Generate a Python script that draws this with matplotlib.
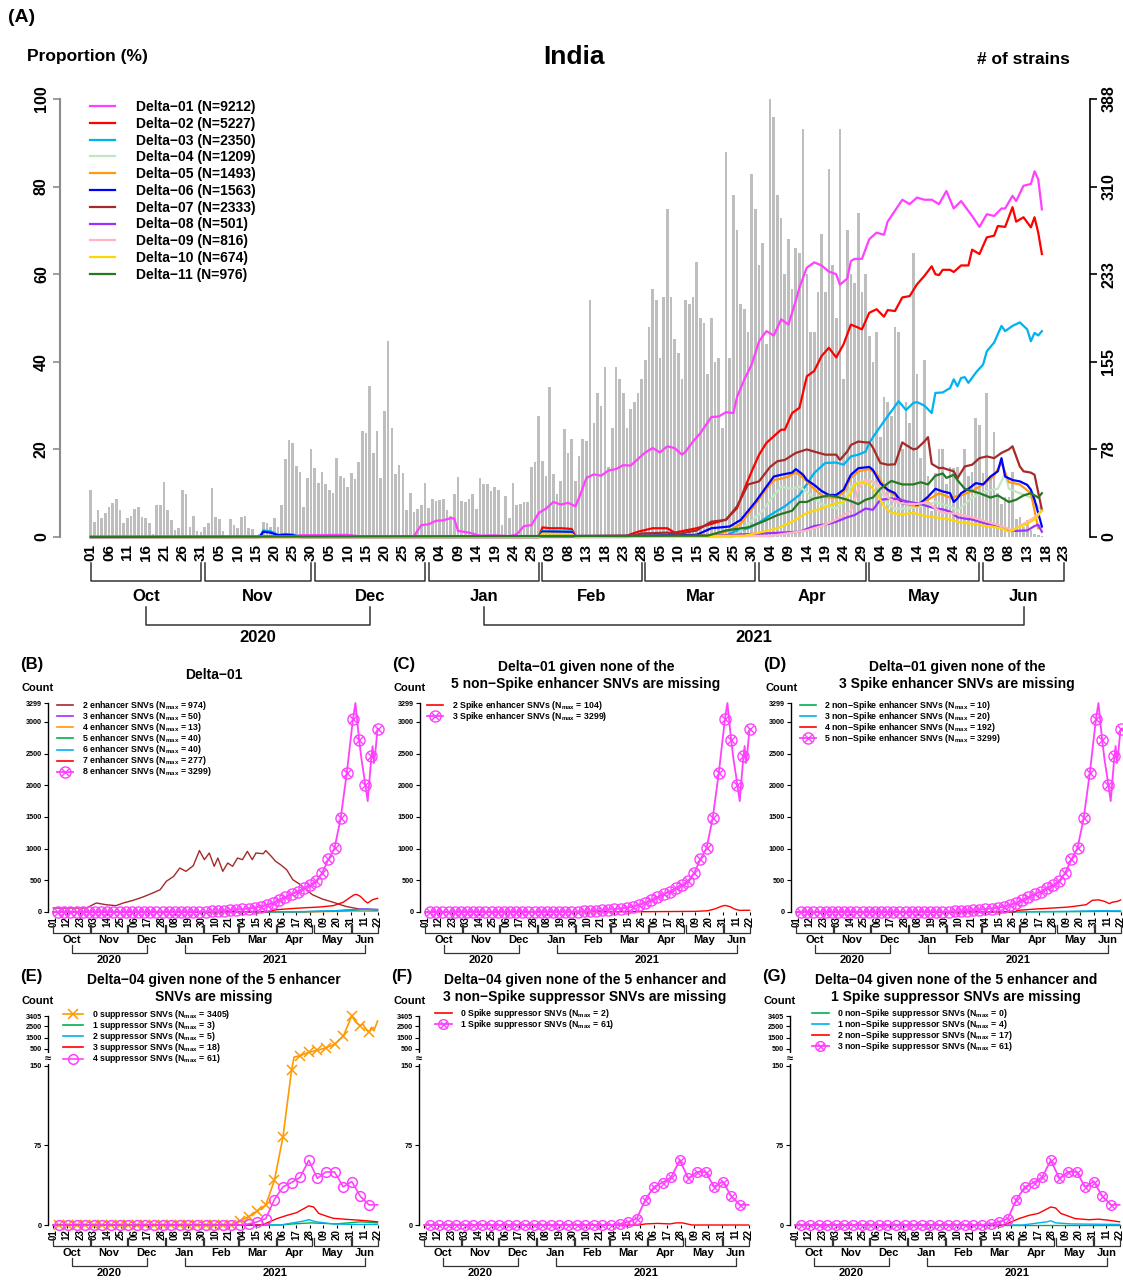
import datetime as dt
import numpy as np
import matplotlib
matplotlib.use('Agg')
import matplotlib.pyplot as plt
from matplotlib.lines import Line2D
from matplotlib.transforms import blended_transform_factory

plt.rcParams['font.family'] = ['Liberation Sans', 'DejaVu Sans']
plt.rcParams['font.weight'] = 'bold'
plt.rcParams['mathtext.fontset'] = 'custom'
plt.rcParams['mathtext.rm'] = 'Liberation Sans:bold'
plt.rcParams['mathtext.bf'] = 'Liberation Sans:bold'
plt.rcParams['mathtext.it'] = 'Liberation Sans:bold:italic'

W, H = 1123, 1283
START = dt.date(2020, 10, 1)   # day 0

# ---------------- panel A data ----------------
# daily number of strains, Oct 1 2020 -> Jun 17 2021
strain_counts = [
    42, 13, 24, 17, 21, 27, 30, 34, 24, 12, 17, 19, 25, 27, 18, 17, 12, 3, 28, 28,
    49, 24, 15, 6, 8, 42, 38, 9, 19, 5, 4, 9, 12, 43, 18, 16, 5, 0, 16, 11,
    8, 18, 19, 8, 7, 1, 3, 13, 12, 9, 17, 9, 28, 69, 86, 83, 63, 58, 27, 52,
    78, 61, 48, 58, 47, 42, 39, 70, 54, 52, 44, 57, 51, 66, 94, 92, 134, 74, 94, 52,
    112, 174, 97, 56, 64, 57, 24, 39, 22, 25, 28, 48, 26, 34, 32, 33, 34, 24, 19, 38,
    53, 32, 31, 34, 38, 25, 52, 47, 47, 41, 44, 42, 11, 36, 17, 48, 28, 29, 31, 31,
    62, 66, 107, 67, 54, 133, 56, 38, 50, 96, 74, 87, 50, 72, 87, 85,
    210, 101, 128, 116, 151, 62, 97, 151, 140, 128, 97, 113, 120, 128, 140, 157, 186, 220, 210, 159,
    213, 291, 213, 175, 163, 140, 210, 206, 213, 244, 194, 190, 144, 194, 155, 159, 97, 341, 159, 303,
    272, 206, 202, 182, 322, 291, 241, 260, 171, 388, 372, 303, 283, 233, 264, 220, 256, 252, 361, 233,
    182, 182, 217, 268, 217, 326, 241, 194, 361, 140, 272, 233, 225, 287, 217, 233, 178, 155, 182, 89,
    124, 120, 107, 186, 182, 78, 120, 101, 252, 144, 70, 157, 54, 23, 57, 78, 78, 47, 62, 61,
    62, 39, 78, 54, 58, 105, 99, 57, 128, 54, 93, 39, 29, 35, 35, 58, 16, 18, 9, 15,
    6, 3, 2, 1,
]
strain_max = 388

# proportion (%) of each variant, (day, value)
delta01 = [(0, 0), (55, 0.1), (57, 0.4), (70, 0.5), (73, 0.2), (88, 0.2), (90, 2.7), (92, 2.9), (94, 3.7),
           (96, 3.8), (98, 4.3), (99, 4.2), (100, 1.4), (103, 1.0), (106, 0.3), (110, 0.4), (114, 0.2),
           (116, 0.6), (118, 2.5), (120, 2.7), (122, 5.5), (124, 6.5), (126, 8), (128, 7.4), (130, 7.8),
           (132, 7), (133, 9), (135, 13.5), (137, 14.3), (139, 14), (141, 15.2), (143, 15.5), (145, 16.4),
           (147, 16.3), (149, 17.8), (151, 19.3), (153, 20.3), (155, 19.3), (157, 20.7), (159, 20.3),
           (161, 18.8), (162, 19.5), (164, 21.8), (166, 23.7), (169, 27.4), (171, 27.5), (173, 28.5),
           (175, 28.3), (176, 32), (178, 36), (180, 39.4), (182, 44.7), (184, 47), (186, 46), (188, 49.7),
           (190, 48.5), (192, 54), (193, 57), (195, 61.5), (197, 62.7), (199, 62), (201, 60.6), (203, 60),
           (204, 57.6), (206, 59), (207, 63), (208, 63.5), (210, 63.5), (212, 68), (214, 69.5), (216, 69),
           (217, 72), (219, 74.5), (221, 77), (223, 76), (225, 77.5), (227, 77), (229, 77), (231, 76),
           (233, 79), (235, 75), (237, 76.7), (240, 73.3), (242, 70.8), (244, 73.7), (246, 73.3), (248, 75),
           (249, 75), (251, 77.9), (252, 76.7), (254, 80.2), (256, 80.6), (257, 83.5), (258, 81.7), (259, 74.8)]
delta02 = [(0, 0), (122, 0), (123, 2.2), (125, 2.0), (128, 2.0), (130, 1.9), (131, 1.8), (132, 0.2), (146, 0.3),
           (149, 1.2), (153, 2.0), (157, 2.0), (159, 1.0), (162, 1.5), (165, 2.0), (169, 3.0), (173, 4.0),
           (176, 6.6), (178, 11), (180, 15), (182, 18.8), (184, 21.5), (186, 23), (188, 24.5), (189, 24.5),
           (191, 28.3), (193, 29.5), (195, 36.7), (197, 37.9), (199, 41.3), (201, 43.2), (203, 41), (205, 44),
           (207, 48.5), (209, 47.8), (210, 47.4), (212, 51.2), (214, 52), (216, 50.3), (217, 51.8), (219, 51.6),
           (221, 54.7), (223, 55), (225, 57.7), (227, 59.6), (229, 61.8), (230, 60), (231, 59.8), (232, 61),
           (234, 61), (235, 60.5), (237, 62), (239, 62), (240, 65.6), (242, 64.6), (244, 68.4), (246, 68.8),
           (247, 71), (249, 70.8), (251, 75.3), (252, 72), (254, 73), (256, 70.7), (257, 73), (258, 69.5),
           (259, 64.6)]
delta03 = [(0, 0), (46, 0), (47, 1.5), (49, 1.3), (51, 0.5), (53, 0.7), (55, 0.6), (57, 0), (122, 0), (123, 1.4),
           (131, 1.3), (132, 0.1), (173, 0.3), (175, 1.2), (179, 2), (182, 3.3), (185, 5), (189, 7), (193, 9.6),
           (197, 14.6), (200, 16.9), (203, 17), (205, 16.5), (207, 18.4), (209, 18.8), (211, 19.5), (212, 21.5),
           (214, 24), (216, 26.4), (218, 28.7), (220, 31), (222, 29), (224, 30.6), (225, 30.8), (227, 30),
           (229, 28.3), (230, 32.9), (232, 33), (234, 34), (235, 36), (236, 34.4), (237, 36.3), (238, 36.5),
           (239, 35.2), (241, 37.5), (243, 39.4), (244, 42.4), (246, 44.4), (248, 48.2), (249, 47), (251, 48.2),
           (253, 49), (255, 47.4), (256, 44.7), (257, 46.6), (258, 46), (259, 47)]
delta04 = [(0, 0), (175, 0), (179, 3), (183, 6), (186, 9.5), (188, 11.5), (191, 11), (193, 11.5), (197, 9),
           (199, 7.5), (203, 6.5), (205, 8), (207, 11.5), (209, 12.5), (212, 13), (215, 11), (217, 7.5),
           (219, 6.5), (222, 6.5), (226, 7), (230, 8), (234, 7), (236, 6), (240, 9), (244, 10.5), (247, 11),
           (249, 14.5), (250, 11), (253, 10), (256, 9), (259, 6)]
delta05 = [(0, 0), (122, 0), (123, 1.0), (131, 0.9), (132, 0), (170, 0.5), (174, 1.5), (177, 3), (181, 7.5),
           (184, 11), (186, 13), (188, 13.3), (190, 13.8), (192, 14.8), (194, 13.5), (197, 11), (199, 9.5),
           (201, 9), (203, 9), (205, 10.2), (207, 13.5), (209, 15), (212, 15.5), (214, 14.5), (216, 11.5),
           (218, 10), (220, 9), (222, 7.5), (225, 7), (228, 8.5), (231, 10), (234, 9), (237, 9.5), (240, 10.5),
           (243, 12), (246, 14), (248, 17), (250, 12.5), (253, 12), (256, 10), (258, 2)]
delta06 = [(0, 0), (46, 0), (47, 1.2), (49, 1.0), (51, 0.4), (53, 0.5), (55, 0.4), (57, 0), (122, 0), (123, 1.2),
           (131, 1.1), (132, 0), (165, 0.5), (169, 2), (174, 2.4), (177, 3.9), (181, 8), (184, 11.5), (186, 13.8),
           (188, 14.2), (191, 14.7), (192, 15.5), (194, 14.2), (195, 13), (197, 11.9), (199, 10.5), (201, 9.6),
           (203, 9.6), (205, 10.8), (207, 14.2), (209, 15.7), (212, 16), (213, 15.3), (215, 12.3), (217, 10.8),
           (219, 10), (221, 7.7), (224, 7.7), (225, 7.3), (226, 7.8), (228, 9.2), (230, 11), (232, 10.4),
           (234, 10), (235, 8), (236, 8.8), (237, 10), (239, 11), (241, 12.3), (243, 12), (245, 13.8), (247, 15),
           (248, 18), (249, 13.8), (251, 13), (253, 12.7), (255, 11.9), (256, 10.8), (257, 8.5), (259, 2.4)]
delta07 = [(0, 0), (146, 0), (150, 0.8), (157, 1), (160, 0.7), (165, 1.5), (169, 3.5), (173, 3.9), (176, 7),
           (179, 12), (182, 12.7), (185, 16), (187, 17.3), (189, 17.6), (192, 19.2), (195, 20), (197, 19.5),
           (200, 18.8), (203, 18.8), (204, 17.6), (206, 19.5), (207, 21), (209, 21.8), (211, 21.6), (212, 21.6),
           (213, 20.4), (215, 16.9), (217, 16.5), (219, 16.6), (221, 21.6), (222, 21), (224, 20), (225, 20.2),
           (227, 21.8), (228, 22.8), (229, 16.7), (231, 15.7), (232, 15.8), (233, 15.5), (235, 15), (236, 13.4),
           (238, 16.1), (240, 16.5), (242, 18), (244, 18.4), (246, 18), (248, 19.2), (250, 20), (251, 20.7),
           (253, 16.1), (254, 15), (256, 14.7), (257, 14.2), (259, 6.2)]
delta08 = [(0, 0), (170, 0.3), (188, 1), (193, 1.2), (197, 2.5), (201, 3), (203, 3.5), (206, 4.5), (208, 5),
           (211, 6.5), (213, 6.2), (215, 8.5), (218, 8.8), (220, 8.6), (223, 8), (226, 7.5), (228, 7), (230, 6.5),
           (232, 6.3), (234, 5.8), (236, 4.5), (238, 4.2), (240, 4), (242, 3.5), (244, 3), (246, 2.8), (248, 2.3),
           (250, 1.5), (252, 1.4), (255, 1.5), (257, 2.5), (258, 2.8), (259, 1.2)]
delta09 = [(0, 0), (185, 0.2), (195, 1.5), (199, 2.5), (203, 4), (207, 6), (209, 11), (211, 13), (213, 12.7),
           (215, 11.5), (217, 9), (219, 8), (222, 7.6), (225, 7.5), (228, 8), (230, 6.5), (232, 5.5), (236, 5.3),
           (240, 4.5), (244, 3.5), (248, 2.5), (251, 1.5), (254, 3), (257, 4.5), (259, 6)]
delta10 = [(0, 0), (122, 0), (123, 0.8), (131, 0.7), (132, 0), (178, 0.3), (182, 1), (187, 2), (191, 3.5),
           (195, 5.5), (197, 6), (199, 6.5), (202, 7.5), (205, 8), (207, 10), (208, 12), (210, 12.5), (212, 12),
           (214, 10), (216, 7), (218, 5.5), (221, 5.2), (224, 5.5), (226, 5), (230, 4.5), (234, 4), (236, 3.5),
           (240, 3), (244, 2.5), (248, 2), (250, 1.2), (252, 2), (255, 3), (257, 4), (259, 6)]
delta11 = [(0, 0), (168, 0.3), (173, 1.5), (179, 2.2), (183, 3.5), (187, 5), (191, 6), (193, 8), (195, 8),
           (197, 8.8), (201, 9.5), (203, 9.2), (206, 8.5), (207, 8.2), (209, 7.5), (211, 8.5), (213, 9), (215, 11),
           (218, 12.8), (221, 12), (224, 12), (226, 12.5), (228, 12), (230, 14), (232, 14.5), (233, 13.5),
           (235, 14.2), (236, 13), (238, 11), (240, 10.5), (242, 10), (245, 9), (247, 9.5), (250, 8), (252, 8.5),
           (254, 9.5), (256, 10), (258, 9), (259, 10)]

variant_series = [delta01, delta02, delta03, delta04, delta05, delta06, delta07, delta08, delta09, delta10, delta11]
variant_names = ['Delta\u221201', 'Delta\u221202', 'Delta\u221203', 'Delta\u221204', 'Delta\u221205', 'Delta\u221206',
                 'Delta\u221207', 'Delta\u221208', 'Delta\u221209', 'Delta\u221210', 'Delta\u221211']
variant_n = [9212, 5227, 2350, 1209, 1493, 1563, 2333, 501, 816, 674, 976]
variant_colors = ['#FF40FF', '#FF0000', '#00B2EE', '#C1E6C1', '#FF9912', '#0000FF', '#A52A2A', '#9B30FF',
                  '#FFB6C1', '#FFD700', '#237A23']

# ---------------- panels B-G data (counts) ----------------
d01_full = [(0, 0), (4, 0), (9, 0), (14, 0), (19, 0), (24, 0), (29, 0), (34, 0), (39, 0), (44, 0), (49, 0), (54, 0),
            (59, 0), (64, 0), (69, 0), (74, 0), (79, 0), (84, 0), (89, 0), (94, 0), (99, 0), (104, 0), (109, 2),
            (114, 3), (119, 4), (124, 5), (129, 10), (134, 15), (139, 20), (144, 25), (149, 35), (154, 45),
            (159, 55), (164, 65), (169, 80), (174, 110), (179, 140), (184, 190), (189, 230), (194, 280), (199, 320),
            (204, 380), (209, 420), (214, 490), (219, 620), (224, 830), (229, 1010), (234, 1480), (239, 2200),
            (244, 3050), (246, 3299), (249, 2720), (251, 2400), (253, 2150), (254, 2010), (256, 1750), (259, 2460),
            (260, 2620), (261, 2350), (262, 2480), (264, 2890)]
b_enh2 = [(0, 63), (27, 63), (35, 142), (43, 115), (51, 100), (57, 142), (65, 184), (73, 237), (81, 300), (87, 352),
          (92, 484), (98, 563), (103, 694), (108, 642), (114, 731), (119, 970), (123, 826), (127, 931), (131, 721),
          (134, 852), (138, 642), (142, 773), (146, 721), (150, 852), (154, 826), (158, 957), (162, 826), (165, 931),
          (171, 920), (173, 970), (177, 889), (181, 800), (185, 747), (190, 668), (195, 510), (200, 447), (206, 352),
          (211, 273), (219, 205), (228, 153), (238, 89), (249, 47), (264, 26)]
b_enh3 = [(0, 0), (200, 2), (220, 10), (240, 30), (250, 45), (255, 50), (264, 40)]
b_enh4 = [(0, 0), (190, 1), (220, 5), (245, 13), (264, 10)]
b_enh5 = [(0, 0), (200, 3), (230, 15), (250, 35), (258, 40), (264, 38)]
b_enh6 = [(0, 0), (200, 5), (230, 20), (245, 35), (255, 40), (264, 30)]
b_enh7 = [(0, 0), (175, 5), (182, 37), (201, 63), (217, 79), (228, 100), (236, 153), (241, 221), (245, 273),
          (247, 277), (250, 247), (254, 168), (256, 142), (260, 195), (264, 216)]
c_spk2 = [(0, 0), (180, 5), (220, 10), (230, 20), (236, 50), (241, 90), (244, 104), (248, 85), (252, 45), (256, 25),
          (264, 28)]
d_ns2 = [(0, 0), (190, 2), (230, 6), (250, 10), (264, 8)]
d_ns3 = [(0, 0), (180, 3), (220, 10), (245, 20), (264, 18)]
d_ns4 = [(0, 0), (178, 2), (180, 26), (195, 47), (209, 63), (222, 79), (236, 115), (241, 184), (246, 192),
         (251, 168), (255, 131), (257, 153), (262, 170), (264, 190)]
d04_61 = [(0, 0), (5, 0), (12, 0), (19, 0), (26, 0), (33, 0), (40, 0), (47, 0), (54, 0), (61, 0), (68, 0), (75, 0),
          (82, 0), (89, 0), (96, 0), (103, 0), (110, 0), (117, 0), (124, 0), (131, 0), (138, 0), (145, 0), (152, 0),
          (159, 1), (166, 3), (173, 6), (180, 24), (187, 36), (194, 40), (201, 45), (208, 61), (215, 44), (222, 50),
          (229, 50), (236, 36), (243, 41), (250, 27), (257, 19), (264, 19)]
e_sup0 = [(0, 0), (5, 0), (12, 0), (19, 0), (26, 0), (33, 0), (40, 0), (47, 0), (54, 0), (61, 0), (68, 0), (75, 0),
          (82, 0), (89, 0), (96, 0), (103, 0), (110, 0), (117, 0), (124, 0), (131, 0), (138, 0), (145, 0), (152, 4),
          (159, 8), (166, 13), (173, 19), (180, 42), (187, 83), (194, 146), (196, 330), (201, 360), (208, 430),
          (215, 470), (222, 600), (229, 900), (236, 1600), (243, 3405), (246, 2900), (250, 2540), (252, 2700),
          (254, 2300), (257, 1980), (259, 2400), (261, 2100), (264, 2960)]
e_sup1 = [(0, 0), (185, 0), (195, 1), (210, 2), (230, 1), (250, 3), (264, 2)]
e_sup2 = [(0, 0), (185, 0), (195, 2), (203, 3.5), (208, 5), (214, 3), (228, 1), (245, 0.5), (264, 0.5)]
e_sup3 = [(0, 0), (170, 0), (174, 2), (182, 6), (190, 9), (198, 11.6), (203, 14.8), (208, 18), (212, 17), (216, 11),
          (222, 8.5), (228, 6.3), (239, 5.3), (247, 4.7), (255, 4), (264, 3)]
f_spk0 = [(0, 0), (175, 0), (180, 1), (190, 1.5), (200, 1), (205, 2), (210, 2), (214, 1), (218, 0), (264, 0)]
g_ns0 = [(0, 0), (264, 0)]
g_ns1 = [(0, 0), (185, 0), (195, 1.5), (205, 3), (208, 4), (212, 2), (225, 1), (264, 0.5)]
g_ns2 = [(0, 0), (170, 0), (174, 2), (182, 6), (190, 9), (198, 11), (203, 14), (208, 17), (212, 16), (216, 11),
         (222, 8.5), (228, 6), (239, 5), (247, 5.5), (255, 4.5), (264, 3)]

PINK, RED, CYAN, GREEN, ORANGE = '#FF40FF', '#FF0000', '#00B0F0', '#00B050', '#FF9900'
BROWN, PURPLE = '#A52A2A', '#9B30FF'

fig = plt.figure(figsize=(W / 100, H / 100), dpi=100)


def px_axes(x0, y0, x1, y1):
    return fig.add_axes([x0 / W, 1 - y1 / H, (x1 - x0) / W, (y1 - y0) / H])


def fy(p):
    return 1 - p / H


def date_axis(ax, last_day, step, y0, tick_fs, month_fs, offs, lw):
    ticks = list(range(0, last_day + 1, step))
    ax.set_xticks(ticks)
    ax.set_xticklabels([(START + dt.timedelta(days=t)).strftime('%d') for t in ticks],
                       rotation=90, fontsize=tick_fs, fontweight='bold')
    tr = blended_transform_factory(ax.transData, fig.transFigure)
    b_top, b_bot, m_y, yb_top, yb_bot, yl_y = offs
    months = []
    d = 0
    while d <= last_day:
        day = START + dt.timedelta(days=d)
        nxt = (day.replace(day=28) + dt.timedelta(days=4)).replace(day=1)
        end = min((nxt - START).days - 1, last_day)
        months.append((d, end, day.strftime('%b'), day.year))
        d = end + 1
    for s, e, name, yr in months:
        ax.plot([s, s, e, e], [fy(y0 + b_top), fy(y0 + b_bot), fy(y0 + b_bot), fy(y0 + b_top)],
                transform=tr, clip_on=False, color='#333333', lw=lw)
        ax.text((s + e) / 2, fy(y0 + m_y), name, transform=tr, ha='center', va='center',
                fontsize=month_fs, fontweight='bold')
    for yr in sorted(set(m[3] for m in months)):
        cs = [(m[0] + m[1]) / 2 for m in months if m[3] == yr]
        ax.plot([cs[0], cs[0], cs[-1], cs[-1]], [fy(y0 + yb_top), fy(y0 + yb_bot), fy(y0 + yb_bot), fy(y0 + yb_top)],
                transform=tr, clip_on=False, color='#333333', lw=lw)
        ax.text((cs[0] + cs[-1]) / 2, fy(y0 + yl_y), str(yr), transform=tr, ha='center', va='center',
                fontsize=month_fs, fontweight='bold')


# ================= panel A =================
ax = px_axes(60, 99, 1090, 537)
axb = ax.twinx()
ax.set_zorder(axb.get_zorder() + 1)
ax.patch.set_visible(False)

axb.bar(np.arange(len(strain_counts)), strain_counts, width=0.72, color='#BEBEBE', linewidth=0)
axb.set_ylim(0, strain_max)
rt = np.linspace(0, strain_max, 6)
axb.set_yticks(rt)
axb.set_yticklabels([f'{t:.0f}' for t in rt], rotation=90, va='center', fontsize=11.5, fontweight='bold')
axb.tick_params(axis='y', length=5, width=1.2, pad=3)
for s in ['top', 'left', 'bottom']:
    axb.spines[s].set_visible(False)
axb.spines['right'].set_linewidth(1.2)

for series, col in zip(variant_series, variant_colors):
    d, v = zip(*series)
    ax.plot(d, v, color=col, lw=1.6, clip_on=False)

ax.set_ylim(0, 100)
ax.set_yticks(range(0, 101, 20))
ax.set_yticklabels([str(t) for t in range(0, 101, 20)], rotation=90, va='center', fontsize=11.5, fontweight='bold')
ax.tick_params(axis='y', length=5, width=1.2, color='#8c8c8c', pad=3)
for s in ['top', 'right', 'bottom']:
    ax.spines[s].set_visible(False)
ax.spines['left'].set_color('#8c8c8c')
ax.spines['left'].set_linewidth(1.5)
ax.tick_params(axis='x', length=0, pad=5)
date_axis(ax, 265, 5, 537, 11, 12, (26, 44, 59, 70, 88, 101), 1.1)
ax.set_xlim(-8.35, 272.1)

handles = [Line2D([], [], color=c, lw=1.6) for c in variant_colors]
labels = [f'{n} (N={k})' for n, k in zip(variant_names, variant_n)]
ax.legend(handles, labels, loc='upper left', bbox_to_anchor=(90 / W, fy(100)), bbox_transform=fig.transFigure,
          frameon=False, prop={'size': 10, 'weight': 'bold'}, handlelength=1.8, handletextpad=1.5,
          labelspacing=0.2, borderaxespad=0, borderpad=0)

fig.text(8 / W, fy(18), '(A)', fontsize=14, fontweight='bold', ha='left', va='center')
fig.text(574 / W, fy(57), 'India', fontsize=19, fontweight='bold', ha='center', va='center')
fig.text(27 / W, fy(57), 'Proportion (%)', fontsize=12.5, fontweight='bold', ha='left', va='center')
fig.text(977 / W, fy(59), '# of strains', fontsize=12.5, fontweight='bold', ha='left', va='center')


# ================= panels B-G =================
def brk_fwd(y):
    y = np.asarray(y, dtype=float)
    return np.where(y <= 150, y, np.where(y <= 500, 150 + (y - 150) * 16 / 350, 166 + (y - 500) * 31 / 2905))


def brk_inv(z):
    z = np.asarray(z, dtype=float)
    return np.where(z <= 150, z, np.where(z <= 166, 150 + (z - 150) * 350 / 16, 500 + (z - 166) * 2905 / 31))


def nlab(text, n):
    return text + ' (N$_{\\mathrm{max}}$ = ' + str(n) + ')'


def count_panel(x0, y_top, y_base, series, ymax, yticks, broken, mark_days, leg_xy, leg_hl, tag, title, tag_y):
    a = px_axes(x0, y_top, x0 + 332, y_base)
    if broken:
        a.set_yscale('function', functions=(brk_fwd, brk_inv))
    handles, labels = [], []
    ms = 8 if not broken else 7
    for data, col, lab, kind in series:
        d = [p[0] for p in data]
        v = [p[1] for p in data]
        me = [i for i, x in enumerate(d) if x in mark_days]
        if kind == 'line':
            a.plot(d, v, color=col, lw=1.0, clip_on=False)
            handles.append(Line2D([], [], color=col, lw=1.2))
        elif kind == 'ox':
            a.plot(d, v, color=col, lw=1.3, marker='o', mfc='none', ms=ms, mew=1.0, markevery=me, clip_on=False)
            a.plot(d, v, ls='none', color=col, marker='x', ms=ms * 0.72, mew=1.0, markevery=me, clip_on=False)
            handles.append((Line2D([], [], color=col, lw=1.3, marker='o', mfc='none', ms=ms, mew=1.0),
                            Line2D([], [], ls='none', color=col, marker='x', ms=ms * 0.72, mew=1.0)))
        elif kind == 'o':
            a.plot(d, v, color=col, lw=1.2, marker='o', mfc='none', ms=ms, mew=1.1, markevery=me, clip_on=False)
            handles.append(Line2D([], [], color=col, lw=1.2, marker='o', mfc='none', ms=ms, mew=1.1))
        elif kind == 'x':
            a.plot(d, v, color=col, lw=1.2, marker='x', ms=ms, mew=1.1, markevery=me, clip_on=False)
            handles.append(Line2D([], [], color=col, lw=1.2, marker='x', ms=ms, mew=1.1))
        labels.append(lab)
    a.set_ylim(0, ymax)
    a.set_yticks(yticks)
    a.set_yticklabels([str(t) for t in yticks], fontsize=5.2, fontweight='bold')
    a.tick_params(axis='y', length=3, width=0.8, pad=1.5)
    for s in ['top', 'right', 'bottom']:
        a.spines[s].set_visible(False)
    a.spines['left'].set_linewidth(1.0)
    if broken:
        a.text(0, 300, '\u2248', transform=blended_transform_factory(a.transAxes, a.transData), ha='center',
               va='center', fontsize=8, bbox=dict(facecolor='white', edgecolor='none', pad=0.2), clip_on=False,
               zorder=6)
    a.tick_params(axis='x', length=2, width=0.8, pad=1)
    date_axis(a, 264, 11, y_base, 7, 8, (13, 21, 28, 33, 41, 48), 0.9)
    a.set_xlim(-4.3, 266)
    a.legend(handles, labels, loc='upper left', bbox_to_anchor=(leg_xy[0] / W, fy(leg_xy[1])),
             bbox_transform=fig.transFigure, frameon=False, prop={'size': 6.3, 'weight': 'bold'},
             handlelength=leg_hl, handletextpad=1.0, labelspacing=-0.22, handleheight=0.5,
             borderaxespad=0, borderpad=0)
    fig.text((x0 - 28) / W, fy(tag_y - 12), tag, fontsize=12, fontweight='bold', ha='left', va='center')
    fig.text((x0 - 26) / W, fy(tag_y + 12), 'Count', fontsize=8, fontweight='bold', ha='left', va='center')
    cx = (x0 + x0 + 332) / 2
    if len(title) == 1:
        fig.text(cx / W, fy(tag_y - 1), title[0], fontsize=10, fontweight='bold', ha='center', va='center')
    else:
        fig.text(cx / W, fy(tag_y - 9), title[0], fontsize=10, fontweight='bold', ha='center', va='center')
        fig.text(cx / W, fy(tag_y + 8), title[1], fontsize=10, fontweight='bold', ha='center', va='center')
    return a


marks5 = list(range(4, 265, 5))
marks7 = list(range(5, 258, 7))
ticks_top = [0, 500, 1000, 1500, 2000, 2500, 3000, 3299]
ticks_brk = [0, 75, 150, 500, 1500, 2500, 3405]

count_panel(48, 703, 912, [
    (b_enh2, BROWN, nlab('2 enhancer SNVs', 974), 'line'),
    (b_enh3, PURPLE, nlab('3 enhancer SNVs', 50), 'line'),
    (b_enh4, ORANGE, nlab('4 enhancer SNVs', 13), 'line'),
    (b_enh5, GREEN, nlab('5 enhancer SNVs', 40), 'line'),
    (b_enh6, CYAN, nlab('6 enhancer SNVs', 40), 'line'),
    (b_enh7, RED, nlab('7 enhancer SNVs', 277), 'line'),
    (d01_full, PINK, nlab('8 enhancer SNVs', 3299), 'ox'),
], 3299, ticks_top, False, marks5, (57, 699), 1.8, '(B)', ['Delta\u221201'], 676)

count_panel(420, 703, 912, [
    (c_spk2, RED, nlab('2 Spike enhancer SNVs', 104), 'line'),
    (d01_full, PINK, nlab('3 Spike enhancer SNVs', 3299), 'ox'),
], 3299, ticks_top, False, marks5, (427, 699), 1.8, '(C)',
    ['Delta\u221201 given none of the', '5 non\u2212Spike enhancer SNVs are missing'], 676)

count_panel(791, 703, 912, [
    (d_ns2, GREEN, nlab('2 non\u2212Spike enhancer SNVs', 10), 'line'),
    (d_ns3, CYAN, nlab('3 non\u2212Spike enhancer SNVs', 20), 'line'),
    (d_ns4, RED, nlab('4 non\u2212Spike enhancer SNVs', 192), 'line'),
    (d01_full, PINK, nlab('5 non\u2212Spike enhancer SNVs', 3299), 'ox'),
], 3299, ticks_top, False, marks5, (800, 699), 1.8, '(D)',
    ['Delta\u221201 given none of the', '3 Spike enhancer SNVs are missing'], 676)

count_panel(48, 1016, 1225, [
    (e_sup0, ORANGE, nlab('0 suppressor SNVs', 3405), 'x'),
    (e_sup1, GREEN, nlab('1 suppressor SNVs', 3), 'line'),
    (e_sup2, CYAN, nlab('2 suppressor SNVs', 5), 'line'),
    (e_sup3, RED, nlab('3 suppressor SNVs', 18), 'line'),
    (d04_61, PINK, nlab('4 suppressor SNVs', 61), 'o'),
], 3405, ticks_brk, True, marks7, (63, 1008), 2.3, '(E)',
    ['Delta\u221204 given none of the 5 enhancer', 'SNVs are missing'], 989)

count_panel(419, 1016, 1225, [
    (f_spk0, RED, nlab('0 Spike suppressor SNVs', 2), 'line'),
    (d04_61, PINK, nlab('1 Spike suppressor SNVs', 61), 'ox'),
], 3405, ticks_brk, True, marks7, (435, 1007), 1.9, '(F)',
    ['Delta\u221204 given none of the 5 enhancer and', '3 non\u2212Spike suppressor SNVs are missing'], 989)

count_panel(790, 1016, 1225, [
    (g_ns0, GREEN, nlab('0 non\u2212Spike suppressor SNVs', 0), 'line'),
    (g_ns1, CYAN, nlab('1 non\u2212Spike suppressor SNVs', 4), 'line'),
    (g_ns2, RED, nlab('2 non\u2212Spike suppressor SNVs', 17), 'line'),
    (d04_61, PINK, nlab('3 non\u2212Spike suppressor SNVs', 61), 'ox'),
], 3405, ticks_brk, True, marks7, (812, 1007), 1.9, '(G)',
    ['Delta\u221204 given none of the 5 enhancer and', '1 Spike suppressor SNVs are missing'], 989)

fig.savefig('out.png', dpi=100)
